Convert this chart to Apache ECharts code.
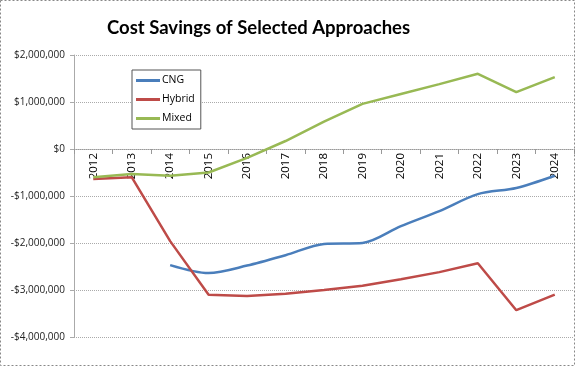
<!DOCTYPE html>
<html><head><meta charset="utf-8">
<script src="https://cdn.jsdelivr.net/npm/echarts@6/dist/echarts.min.js"></script>
<style>html,body{margin:0;padding:0;background:#fff}#c{width:576px;height:367px}</style>
</head><body><div id="c"></div>
<script>
const years = ['2012','2013','2014','2015','2016','2017','2018','2019','2020','2021','2022','2023','2024'];
const cng = [null, null, -2470000, -2640000, -2480000, -2260000, -2020000, -2000000, -1640000, -1320000, -960000, -830000, -570000];
const hybrid = [-640000, -600000, -1960000, -3100000, -3130000, -3080000, -3000000, -2910000, -2770000, -2620000, -2430000, -3430000, -3100000];
const mixed = [-600000, -530000, -570000, -500000, -190000, 170000, 580000, 960000, 1170000, 1380000, 1600000, 1210000, 1530000];
const yTicks = {min: -4000000, max: 2000000, interval: 1000000};

function fmt(v){
  const s = Math.abs(v).toString().replace(/\B(?=(\d{3})+(?!\d))/g, ',');
  return (v < 0 ? '-$' : '$') + s;
}
const gridTop = 55, gridBottom = 30, H = 367;
const plotH = H - gridTop - gridBottom;
const zeroOffset = -plotH * (0 - yTicks.min) / (yTicks.max - yTicks.min);

const chart = echarts.init(document.getElementById('c'));
chart.setOption({
  backgroundColor: '#fff',
  animation: false,
  title: {
    text: 'Cost Savings of Selected Approaches',
    left: 102, top: 14,
    textStyle: {fontFamily: 'Lato', fontWeight: 'bold', fontSize: 18.5, color: '#000'}
  },
  graphic: [{
    type: 'rect', shape: {x: 0.5, y: 0.5, width: 574, height: 365},
    style: {fill: 'none', stroke: '#888', lineWidth: 1, lineDash: [2, 2]}, silent: true, z: 100
  }],
  legend: {
    orient: 'vertical', left: 132, top: 70,
    padding: [5, 6, 5, 4], itemGap: 8,
    itemWidth: 24, itemHeight: 3, icon: 'rect',
    borderColor: '#555', borderWidth: 1, backgroundColor: '#fff',
    textStyle: {fontFamily: 'Open Sans', fontSize: 10.5, color: '#000', padding: [0, 0, 0, -3]},
    data: ['CNG', 'Hybrid', 'Mixed']
  },
  grid: {left: 74, right: 2, top: gridTop, bottom: gridBottom, containLabel: false},
  xAxis: {
    type: 'category', data: years, boundaryGap: true,
    position: 'bottom', offset: zeroOffset,
    axisLine: {onZero: false, lineStyle: {color: '#999', type: 'dotted'}},
    axisTick: {show: true, length: 5, lineStyle: {color: '#999'}},
    axisLabel: {rotate: 90, margin: 4, fontFamily: 'Open Sans', fontSize: 11.5, color: '#000'},
    splitLine: {show: false}
  },
  yAxis: {
    type: 'value', min: yTicks.min, max: yTicks.max, interval: yTicks.interval,
    axisLine: {show: true, lineStyle: {color: '#aaa'}},
    axisTick: {show: true, length: 4, lineStyle: {color: '#aaa'}},
    axisLabel: {formatter: fmt, fontFamily: 'Open Sans', fontSize: 10, color: '#222', margin: 9},
    splitLine: {show: true, lineStyle: {color: '#aaa', type: 'dotted'}}
  },
  series: [
    {name: 'CNG', type: 'line', data: cng, smooth: 0.3, showSymbol: false, symbol: 'none', connectNulls: false,
      lineStyle: {color: '#4A7EBB', width: 2.5}, itemStyle: {color: '#4A7EBB'}},
    {name: 'Hybrid', type: 'line', data: hybrid, smooth: false, showSymbol: false, symbol: 'none',
      lineStyle: {color: '#BE4B48', width: 2.5}, itemStyle: {color: '#BE4B48'}},
    {name: 'Mixed', type: 'line', data: mixed, smooth: false, showSymbol: false, symbol: 'none',
      lineStyle: {color: '#98B954', width: 2.5}, itemStyle: {color: '#98B954'}}
  ]
});
</script></body></html>
